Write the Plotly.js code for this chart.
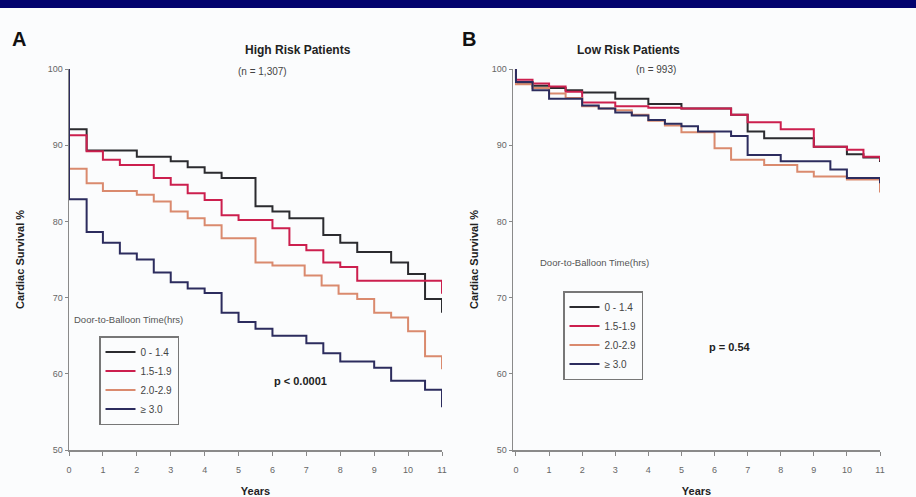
<!DOCTYPE html>
<html>
<head>
<meta charset="utf-8">
<script src="https://cdn.plot.ly/plotly-3.0.1.min.js"></script>
<style>html,body{margin:0;padding:0;background:#fbfcfd;}#chart{width:916px;height:497px;}</style>
</head>
<body>
<div id="chart"></div>
<script>
// Group labels (Door-to-Balloon time, hrs)
const groups = ['0 - 1.4', '1.5-1.9', '2.0-2.9', '≥ 3.0'];
const colors = ['#2b2b2f', '#cc1f4e', '#da8a6e', '#2c2c5e'];

// Panel A: High risk patients (n = 1,307) - step times (years) and survival (%)
const aTime0 = [0,0,0.52,2.0,3.0,3.5,4.0,4.5,5.5,6.0,6.5,7.5,8.0,8.5,9.5,10.0,10.5,11];
const aSurv0 = [100,92.1,89.3,88.5,87.9,87.1,86.4,85.7,82.0,81.3,80.4,78.2,77.2,76.0,74.6,73.1,69.8,68.0];
const aTime1 = [0,0,0.52,1.0,1.5,2.5,3.0,3.5,4.0,4.5,5.0,6.0,6.5,7.0,7.5,8.0,8.5,11];
const aSurv1 = [100,91.3,89.2,88.1,87.4,85.7,84.8,83.7,82.8,80.8,80.2,79.1,76.9,76.2,74.6,74.0,72.2,70.5];
const aTime2 = [0,0,0.52,1.0,2.0,2.5,3.0,3.5,4.0,4.5,5.5,6.0,6.95,7.45,7.95,8.5,9.0,9.5,10.0,10.5,11];
const aSurv2 = [100,86.9,85.0,84.0,83.5,82.6,81.3,80.4,79.5,77.8,74.6,74.2,72.9,71.6,70.5,69.8,68.0,67.4,65.6,62.3,60.6];
const aTime3 = [0,0,0.52,1.0,1.5,2.0,2.5,3.0,3.5,4.0,4.5,5.0,5.5,6.0,7.0,7.5,8.0,9.0,9.5,10.5,11];
const aSurv3 = [100,82.9,78.6,77.2,75.8,75.0,73.3,72.0,71.2,70.6,68.0,66.8,65.9,65.0,64.0,62.7,61.6,60.8,59.1,57.9,55.6];

// Panel B: Low risk patients (n = 993)
const bTime0 = [0,0,0.5,1.0,1.5,2.0,3.0,4.0,5.0,6.5,7.0,7.5,9.0,10.0,10.5,11];
const bSurv0 = [100,98.2,97.8,97.5,97.2,96.9,96.1,95.4,94.8,94.0,91.8,90.9,89.8,88.8,88.4,87.8];
const bTime1 = [0,0,0.5,1.0,1.5,2.0,3.0,4.0,5.0,6.5,7.0,8.0,9.0,10.0,10.5,11];
const bSurv1 = [100,98.6,98.1,97.7,97.0,95.6,95.1,94.9,94.8,94.0,93.0,92.1,89.8,89.4,88.5,88.0];
const bTime2 = [0,0,0.5,1.0,1.5,2.0,2.5,3.0,3.5,4.0,4.5,5.0,6.0,6.5,7.5,8.5,9.0,10.0,11];
const bSurv2 = [100,98.0,97.5,96.8,96.2,95.1,94.8,94.6,94.0,93.2,92.6,91.7,89.6,88.1,87.4,86.5,85.9,85.5,83.8];
const bTime3 = [0,0,0.5,1.0,2.0,2.5,3.0,3.5,4.0,4.5,5.0,5.5,6.5,7.0,8.0,9.5,10.0,11];
const bSurv3 = [100,98.3,97.2,96.1,95.2,94.8,94.3,93.9,93.3,92.8,92.5,91.8,91.2,88.7,87.9,86.8,85.7,85.0];

const xTicks = [0,1,2,3,4,5,6,7,8,9,10,11];
const yTicks = [50,60,70,80,90,100];

const aT = [aTime0,aTime1,aTime2,aTime3], aS = [aSurv0,aSurv1,aSurv2,aSurv3];
const bT = [bTime0,bTime1,bTime2,bTime3], bS = [bSurv0,bSurv1,bSurv2,bSurv3];

const traces = [];
for (let i = 0; i < 4; i++) {
  traces.push({x: aT[i], y: aS[i], xaxis: 'x', yaxis: 'y', type: 'scatter', mode: 'lines',
    line: {shape: 'hv', color: colors[i], width: 2}, name: groups[i], legend: 'legend'});
}
for (let i = 0; i < 4; i++) {
  traces.push({x: bT[i], y: bS[i], xaxis: 'x2', yaxis: 'y2', type: 'scatter', mode: 'lines',
    line: {shape: 'hv', color: colors[i], width: 2}, name: groups[i], legend: 'legend2'});
}

const W = 916, H = 497;
const px = v => v / W, py = v => (H - v) / H;
const font = 'Liberation Sans, Arial, sans-serif';

function xax(domain, range, anchor) {
  return {domain: domain, range: range, tickvals: xTicks, ticks: 'outside', ticklen: 4, tickcolor: '#888',
    showline: true, linecolor: '#8a8a8a', linewidth: 1.5, showgrid: false, zeroline: false,
    ticklabelstandoff: 7,
    tickfont: {size: 9, color: '#666', family: font}, anchor: anchor,
    title: {text: 'Years', font: {size: 11, color: '#222', family: font, weight: 'bold'}, standoff: 14}};
}
function yax(domain, anchor, standoff) {
  return {domain: domain, range: [50, 100], tickvals: yTicks, ticks: 'outside', ticklen: 3, tickcolor: '#888',
    showline: true, linecolor: '#8a8a8a', linewidth: 1.5, showgrid: false, zeroline: false,
    tickfont: {size: 9, color: '#666', family: font}, anchor: anchor,
    title: {text: 'Cardiac Survival %', font: {size: 11, color: '#222', family: font, weight: 'bold'}, standoff: standoff}};
}

const legendBase = {bgcolor: 'rgba(0,0,0,0)', bordercolor: '#777', borderwidth: 1.5,
  font: {size: 10, color: '#444', family: font}, xanchor: 'left', yanchor: 'top',
  itemwidth: 30, tracegroupgap: 0};

const layout = {
  width: W, height: H,
  margin: {l: 0, r: 0, t: 0, b: 0},
  paper_bgcolor: '#fbfcfd', plot_bgcolor: 'rgba(0,0,0,0)',
  font: {family: font},
  xaxis: xax([px(69), px(442)], [0, 11], 'y'),
  yaxis: yax([py(450), py(69)], 'x', 21),
  xaxis2: xax([px(513), px(880)], [-0.09, 11], 'y2'),
  yaxis2: yax([py(450), py(69)], 'x2', 11),
  legend: Object.assign({x: px(99), y: py(336)}, legendBase),
  legend2: Object.assign({x: px(563), y: py(291)}, legendBase),
  shapes: [
    {type: 'rect', xref: 'paper', yref: 'paper', x0: 0, x1: 1, y0: py(8), y1: 1,
     fillcolor: '#03036e', line: {width: 0}}
  ],
  annotations: [
    {text: 'A', x: px(10), y: py(39), xref: 'paper', yref: 'paper', xanchor: 'left', yanchor: 'middle', showarrow: false,
     font: {size: 20, color: '#111', family: font, weight: 'bold'}},
    {text: 'B', x: px(460), y: py(39), xref: 'paper', yref: 'paper', xanchor: 'left', yanchor: 'middle', showarrow: false,
     font: {size: 20, color: '#111', family: font, weight: 'bold'}},
    {text: 'High Risk Patients', x: px(243), y: py(41), xref: 'paper', yref: 'paper', showarrow: false,
     font: {size: 12, color: '#222', family: font, weight: 'bold'}},
    {text: '(n = 1,307)', x: px(236), y: py(64), xref: 'paper', yref: 'paper', showarrow: false,
     font: {size: 10, color: '#444', family: font}},
    {text: 'Low Risk Patients', x: px(682), y: py(41), xref: 'paper', yref: 'paper', showarrow: false,
     font: {size: 12, color: '#222', family: font, weight: 'bold'}},
    {text: '(n = 993)', x: px(678), y: py(62), xref: 'paper', yref: 'paper', showarrow: false,
     font: {size: 10, color: '#444', family: font}},
    {text: 'Door-to-Balloon Time(hrs)', x: px(72), y: py(319), xref: 'paper', yref: 'paper', xanchor: 'left', showarrow: false,
     font: {size: 9.5, color: '#555', family: font}},
    {text: 'Door-to-Balloon Time(hrs)', x: px(538), y: py(262), xref: 'paper', yref: 'paper', xanchor: 'left', showarrow: false,
     font: {size: 9.5, color: '#555', family: font}},
    {text: 'p < 0.0001', x: px(272), y: py(389), xref: 'paper', yref: 'paper', showarrow: false,
     font: {size: 11, color: '#222', family: font, weight: 'bold'}},
    {text: 'p = 0.54', x: px(753), y: py(355), xref: 'paper', yref: 'paper', showarrow: false,
     font: {size: 11, color: '#222', family: font, weight: 'bold'}}
  ]
};

Plotly.newPlot('chart', traces, layout, {displayModeBar: false, staticPlot: true});
</script>
</body>
</html>
